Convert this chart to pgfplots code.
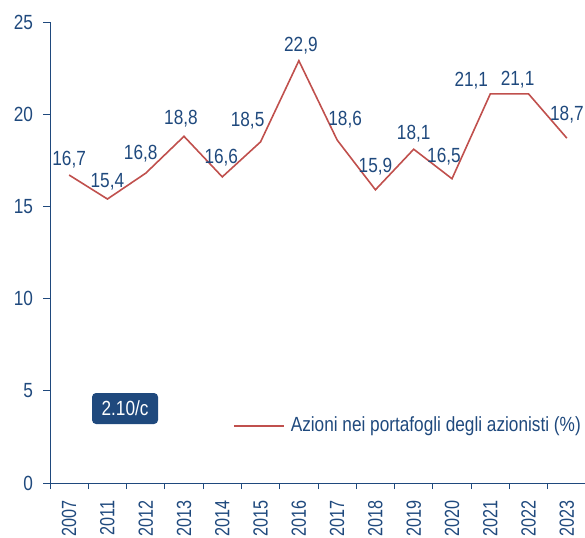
\documentclass[border=0pt]{standalone}
\usepackage{pgfplots}
\usepackage{pgfplotstable}
\pgfplotsset{compat=1.18}
\usepackage{fontspec}
\setmainfont{Liberation Sans}[FakeStretch=0.84]
\newfontfamily\yearfont{Liberation Sans}[FakeStretch=0.79]
\definecolor{axblue}{RGB}{31,73,125}
\definecolor{linered}{RGB}{192,80,77}
\pgfplotstableread{
x y lab dx dy
0 16.7 16,7 0 10
1 15.4 15,4 0 12
2 16.8 16,8 -5 14
3 18.8 18,8 -3 12
4 16.6 16,6 -1 13
5 18.5 18,5 -13 15
6 22.9 22,9 2 9
7 18.6 18,6 8 15
8 15.9 15,9 0 17
9 18.1 18,1 0 10
10 16.5 16,5 -8 16
11 21.1 21,1 -19 7
12 21.1 21,1 -11 8
13 18.7 18,7 0 18
}\datatable
\begin{document}
\begin{tikzpicture}
\fontsize{20.5}{23}\selectfont
\begin{axis}[
  name=ax,
  scale only axis,
  width=536pt, height=461pt,
  xmin=-0.5, xmax=13.5,
  ymin=0, ymax=25,
  ytick={0,5,10,15,20,25},
  xtick={0,...,13},
  xticklabels={2007,2011,2012,2013,2014,2015,2016,2017,2018,2019,2020,2021,2022,2023},
  minor xtick={-0.5,0.5,...,13.5},
  major x tick style={draw=none},
  axis lines*=left,
  axis line style={axblue, line width=0.9pt},
  tick style={axblue, line width=0.9pt},
  tick align=outside,
  major tick length=7pt,
  minor tick length=6pt,
  x tick label style={yshift=-10pt, rotate=90, anchor=east, inner sep=0pt, font=\yearfont\fontsize{20.5}{23}\selectfont, text=axblue},
  y tick label style={font=\fontsize{20.5}{23}\selectfont, text=axblue},
  yticklabel style={xshift=-3pt},
  /pgf/number format/assume math mode=true,
  legend style={at={(rel axis cs:1,0.1236)}, anchor=east, draw=none, fill=none, font=\fontsize{20.5}{23}\selectfont, text=axblue, /tikz/every odd column/.append style={column sep=4pt}},
  legend cell align=left,
  legend image code/.code={\draw[#1] (0pt,0pt) -- (50pt,0pt);},
  clip=false,
]
\addplot[color=linered, line width=1.6pt, mark=none,
  nodes near coords,
  point meta=explicit symbolic,
  visualization depends on={\thisrow{dx}\as\dx},
  visualization depends on={\thisrow{dy}\as\dy},
  every node near coord/.append style={font=\fontsize{20.5}{23}\selectfont, text=axblue, anchor=base, xshift=\dx pt, yshift=\dy pt, inner sep=0pt},
] table[x=x, y=y, meta=lab] {\datatable};
\addlegendentry{Azioni nei portafogli degli azionisti (\%)}
\node[fill=axblue, text=white, rounded corners=4pt, minimum width=66pt, minimum height=31pt, inner sep=2pt, font=\fontsize{20.5}{23}\selectfont] at (axis cs:1.46,4.04) {2.10/c};
\end{axis}
\pgfresetboundingbox
\path[use as bounding box] (ax.south west) ++(-50pt,-54pt) rectangle ++(585pt,537pt);
\end{tikzpicture}
\end{document}
